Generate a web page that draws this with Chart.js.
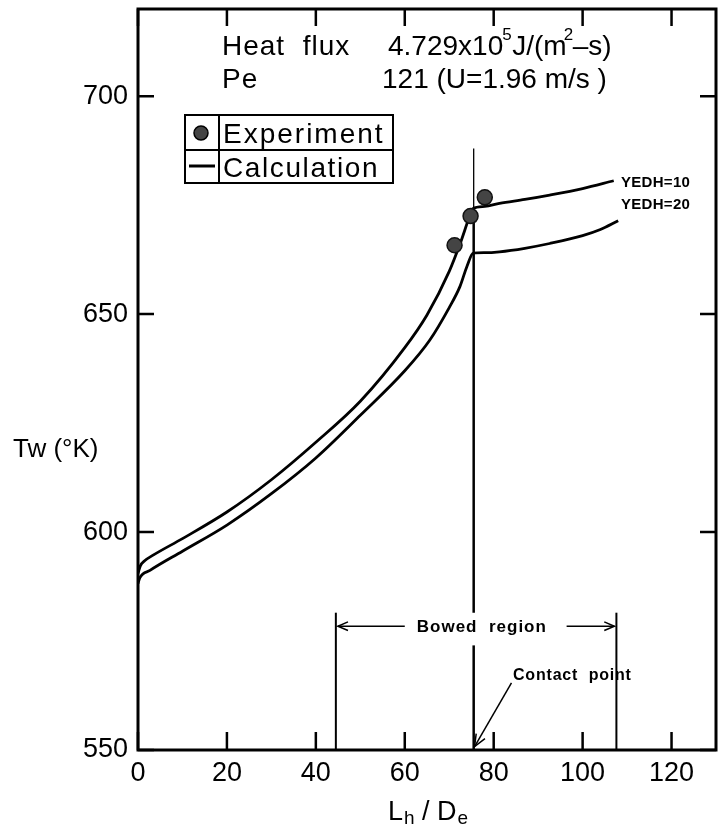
<!DOCTYPE html>
<html>
<head>
<meta charset="utf-8">
<script src="https://cdn.jsdelivr.net/npm/chart.js@4.4.1/dist/chart.umd.min.js"></script>
<style>
body{margin:0;background:#fff;}
canvas{display:block;}
</style>
</head>
<body>
<canvas id="twChart" width="725" height="829"></canvas>
<script>
// tick labels
const xTicks=[0,20,40,60,80,100,120];
const yTicks=[550,600,650,700];

// calculation, YEDH=10 (upper line)
const calc10X=[0,0.5,1.5,3.4,10,20,30,40,50,60,65,70,72.5,74.5,75.3,78,81.3,87,92.6,100,107];
const calc10Y=[590.5,592.2,593.4,594.7,598.5,604.6,612.0,620.6,630.0,642.3,649.8,659.8,666.3,672.2,674.2,674.7,675.4,676.3,677.3,678.8,680.6];

// calculation, YEDH=20 (lower line)
const calc20X=[0,0.4,2.7,10,20,30,40,50,60,65.6,70,72.4,74,75.4,78,81.3,87,92.6,100,104,108];
const calc20Y=[588.2,589.5,591.2,595.6,601.6,608.8,617.0,626.8,637.0,644.0,651.5,656.3,661.0,664.0,664.1,664.3,665.1,666.2,668.0,669.4,671.4];

// experiment
const expX=[71.2,74.8,78.0];
const expY=[665.8,672.5,676.8];

// contact point line and bowed region limits
const contactX=75.5;
const contactLowY=[550,574];
const contactMidY=[581.5,674];
const contactTopY=[674,688];
const bowedX=[44.5,107.6];
const bowedY=[550,581.5];
const bowedArrowY=578.4;
const bowedArrowInner=[60,96.4];
const contactArrowFrom=[84.0,565.4];
const contactArrowTo=[75.7,550.8];

function pts(xs,ys){
    return xs.map((x,i)=>({x:x,y:ys[i]}));
}
function vline(x,ys){
    return ys.map(y=>({x:x,y:y}));
}

const font='"Liberation Sans", Arial, sans-serif';

function chevron(ctx,x,y,ang,size){
    ctx.beginPath();
    ctx.moveTo(x+size*Math.cos(ang+0.4),y+size*Math.sin(ang+0.4));
    ctx.lineTo(x,y);
    ctx.lineTo(x+size*Math.cos(ang-0.4),y+size*Math.sin(ang-0.4));
    ctx.stroke();
}

function txt(ctx,s,x,y,size,bold,spacing){
    ctx.font=(bold?'bold ':'')+size+'px '+font;
    ctx.letterSpacing=(spacing||0)+'px';
    ctx.fillText(s,x,y);
    let w=ctx.measureText(s).width;
    ctx.letterSpacing='0px';
    return x+w;
}

const decorPlugin={
    id:'decor',
    afterDraw(chart){
        const ctx=chart.ctx;
        const a=chart.chartArea;
        const sx=chart.scales.x, sy=chart.scales.y;
        ctx.save();
        ctx.strokeStyle='#000';
        ctx.fillStyle='#000';
        ctx.lineCap='butt';

        // frame
        ctx.lineWidth=3;
        ctx.strokeRect(a.left,a.top,a.right-a.left,a.bottom-a.top);

        // inward ticks on all sides
        ctx.lineWidth=2.5;
        xTicks.forEach(v=>{
            let px=sx.getPixelForValue(v);
            ctx.beginPath();
            ctx.moveTo(px,a.bottom);ctx.lineTo(px,a.bottom-18);
            ctx.moveTo(px,a.top);ctx.lineTo(px,a.top+17);
            ctx.stroke();
        });
        yTicks.forEach(v=>{
            let py=sy.getPixelForValue(v);
            ctx.beginPath();
            ctx.moveTo(a.left,py);ctx.lineTo(a.left+16,py);
            ctx.moveTo(a.right,py);ctx.lineTo(a.right-16,py);
            ctx.stroke();
        });

        // bowed region arrows
        ctx.lineWidth=1.5;
        let ay=sy.getPixelForValue(bowedArrowY);
        let l0=sx.getPixelForValue(bowedX[0]), l1=sx.getPixelForValue(bowedArrowInner[0]);
        let r0=sx.getPixelForValue(bowedArrowInner[1]), r1=sx.getPixelForValue(bowedX[1]);
        ctx.beginPath();
        ctx.moveTo(l0+2,ay);ctx.lineTo(l1,ay);
        ctx.moveTo(r0,ay);ctx.lineTo(r1-2,ay);
        ctx.stroke();
        chevron(ctx,l0+2,ay,0,11);
        chevron(ctx,r1-2,ay,Math.PI,11);

        // contact point arrow
        let cx0=sx.getPixelForValue(contactArrowFrom[0]), cy0=sy.getPixelForValue(contactArrowFrom[1]);
        let cx1=sx.getPixelForValue(contactArrowTo[0]), cy1=sy.getPixelForValue(contactArrowTo[1]);
        ctx.beginPath();ctx.moveTo(cx0,cy0);ctx.lineTo(cx1,cy1);ctx.stroke();
        chevron(ctx,cx1,cy1,Math.atan2(cy0-cy1,cx0-cx1),13);

        ctx.textBaseline='alphabetic';
        ctx.textAlign='left';
        txt(ctx,'Bowed  region',sx.getPixelForValue(62.7),ay+6,17,true,1);
        txt(ctx,'Contact  point',513,680,16,true,0.8);
        txt(ctx,'YEDH=10',621,187,15,true,0.3);
        txt(ctx,'YEDH=20',621,209,15,true,0.3);

        // header text
        txt(ctx,'Heat  flux',222,55,28,false,1);
        let x=txt(ctx,'4.729x10',388,55,28,false,0);
        txt(ctx,'5',x-1,40,17,false,0);
        x=txt(ctx,'J/(m',x+9,55,28,false,0);
        txt(ctx,'2',x-3,40,17,false,0);
        txt(ctx,'\u2013s)',x+6,55,28,false,0);
        txt(ctx,'Pe',222,88,28,false,1);
        txt(ctx,'121 (U=1.96 m/s )',382,88,28,false,0);

        // legend table
        ctx.lineWidth=2;
        ctx.strokeRect(185,115,208,68);
        ctx.beginPath();
        ctx.moveTo(219,115);ctx.lineTo(219,183);
        ctx.moveTo(185,150);ctx.lineTo(393,150);
        ctx.stroke();
        ctx.beginPath();
        ctx.arc(201,133,7,0,Math.PI*2);
        ctx.fillStyle='#444';ctx.fill();
        ctx.lineWidth=1.5;ctx.stroke();
        ctx.fillStyle='#000';
        ctx.lineWidth=3;
        ctx.beginPath();ctx.moveTo(189,166);ctx.lineTo(215,166);ctx.stroke();
        txt(ctx,'Experiment',223,143,28,false,2);
        txt(ctx,'Calculation',223,177,28,false,1.6);

        // axis titles
        txt(ctx,'Tw (\u00b0K)',13,457,26,false,0);
        x=txt(ctx,'L',388,820,27,false,0);
        x=txt(ctx,'h',x+1,824,19,false,0);
        x=txt(ctx,' / D',x,820,27,false,0);
        txt(ctx,'e',x+1,824,19,false,0);

        ctx.restore();
    }
};

const lineStyle={borderColor:'#000',pointRadius:0,fill:false};

new Chart(document.getElementById('twChart'),{
    type:'line',
    data:{
        datasets:[
            {label:'Experiment',data:pts(expX,expY),showLine:false,pointRadius:7.5,
             pointBackgroundColor:'#444',pointBorderColor:'#111',pointBorderWidth:1.5},
            Object.assign({label:'YEDH=10',data:pts(calc10X,calc10Y),borderWidth:2.8,cubicInterpolationMode:'monotone'},lineStyle),
            Object.assign({label:'YEDH=20',data:pts(calc20X,calc20Y),borderWidth:2.8,cubicInterpolationMode:'monotone'},lineStyle),
            Object.assign({label:'contact low',data:vline(contactX,contactLowY),borderWidth:2.5},lineStyle),
            Object.assign({label:'contact mid',data:vline(contactX,contactMidY),borderWidth:2.5},lineStyle),
            Object.assign({label:'contact top',data:vline(contactX,contactTopY),borderWidth:1.3},lineStyle),
            Object.assign({label:'bowed left',data:vline(bowedX[0],bowedY),borderWidth:2},lineStyle),
            Object.assign({label:'bowed right',data:vline(bowedX[1],bowedY),borderWidth:2},lineStyle)
        ]
    },
    options:{
        responsive:false,
        animation:false,
        layout:{padding:{top:6,right:8,left:0,bottom:0}},
        plugins:{legend:{display:false},tooltip:{enabled:false}},
        scales:{
            x:{
                type:'linear',min:0,max:130,
                afterBuildTicks:s=>{s.ticks=xTicks.map(v=>({value:v}));},
                grid:{display:false,drawTicks:false},
                border:{display:false},
                ticks:{color:'#000',font:{family:font,size:27},padding:7,maxRotation:0,autoSkip:false},
                afterFit:s=>{s.height=79;s.paddingLeft=0;s.paddingRight=0;}
            },
            y:{
                type:'linear',min:550,max:720,
                afterBuildTicks:s=>{s.ticks=yTicks.map(v=>({value:v}));},
                grid:{display:false,drawTicks:false},
                border:{display:false},
                ticks:{color:'#000',font:{family:font,size:27},padding:10,autoSkip:false},
                afterFit:s=>{s.width=138;s.paddingTop=0;s.paddingBottom=0;}
            }
        }
    },
    plugins:[decorPlugin]
});
</script>
</body>
</html>
